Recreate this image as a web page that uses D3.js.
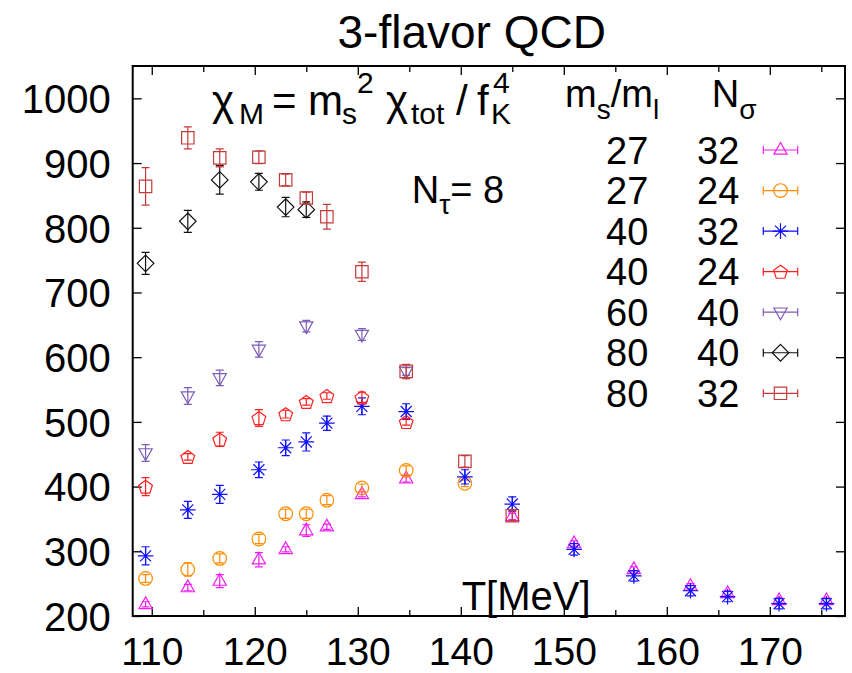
<!DOCTYPE html>
<html>
<head>
<meta charset="utf-8">
<script src="https://cdn.jsdelivr.net/npm/d3@7"></script>
<style>
  body { margin: 0; background: #fff; }
  svg { display: block; }
  text { font-family: "Liberation Sans", Arial, Helvetica, sans-serif; fill: #000; }
</style>
</head>
<body>
<svg id="chart" width="852" height="673"></svg>
<script>
// ---- data: temperature T [MeV], chi_M and its error for each (ms/ml, N_sigma) ensemble ----
const T_27_32   = [109.4, 113.5, 116.6, 120.4, 123.0, 125.0, 127.0, 130.4, 134.7, 145.0, 151.0, 156.8, 162.3, 165.9, 170.9, 175.5];
const chi_27_32 = [218, 244, 254, 287, 303, 332, 338, 388, 412, 354, 312, 272, 246, 235, 224, 224];
const err_27_32 = [4, 5, 10, 11, 4, 9, 4, 4, 5, 5, 4, 4, 4, 4, 4, 4];

const T_27_24   = [109.4, 113.5, 116.6, 120.4, 123.0, 125.0, 127.0, 130.4, 134.7, 140.4];
const chi_27_24 = [258, 272, 289, 319, 358, 358, 379, 398, 425, 405];
const err_27_24 = [6, 10, 7, 7, 7, 7, 7, 6, 7, 5];

const T_40_32   = [109.4, 113.5, 116.6, 120.4, 123.0, 125.0, 127.0, 130.4, 134.7, 140.4, 145.0, 151.0, 156.8, 162.3, 165.9, 170.9, 175.5];
const chi_40_32 = [293, 364, 388, 426, 460, 469, 498, 524, 516, 415, 373, 303, 262, 239, 230, 219, 219];
const err_40_32 = [14, 13, 14, 12, 12, 14, 11, 13, 12, 11, 11, 9, 8, 8, 8, 8, 8];

const T_40_24   = [109.4, 113.5, 116.6, 120.4, 123.0, 125.0, 127.0, 130.4, 134.7];
const chi_40_24 = [400, 446, 473, 506, 512, 531, 540, 538, 500];
const err_40_24 = [14, 5, 11, 13, 6, 5, 5, 8, 5];

const T_60_40   = [109.4, 113.5, 116.6, 120.4, 125.0, 130.4, 134.7];
const chi_60_40 = [452, 540, 568, 612, 648, 635, 578];
const err_60_40 = [13, 13, 12, 12, 9, 9, 6];

const T_80_40   = [109.4, 113.5, 116.6, 120.4, 123.0, 125.0];
const chi_80_40 = [745, 810, 874, 871, 832, 828];
const err_80_40 = [17, 17, 22, 13, 15, 12];

const T_80_32   = [109.4, 113.5, 116.6, 120.4, 123.0, 125.0, 127.0, 130.4, 134.7, 140.4, 145.0];
const chi_80_32 = [864, 939, 908, 909, 874, 846, 817, 732, 578, 439, 355];
const err_80_32 = [29, 17, 14, 10, 9, 9, 19, 15, 11, 9, 8];

// legend columns
const msRatio = ["27", "27", "40", "40", "60", "80", "80"];
const nSigma  = ["32", "24", "32", "24", "40", "40", "32"];

// axis ticks
const xTicks = [110, 115, 120, 125, 130, 135, 140, 145, 150, 155, 160, 165, 170, 175];
const yTicks = [200, 300, 400, 500, 600, 700, 800, 900, 1000];

// ---- series table ----
const series = [
  { T: T_27_32, v: chi_27_32, e: err_27_32, color: "#f21cf2", shape: "triUp" },
  { T: T_27_24, v: chi_27_24, e: err_27_24, color: "#ff8c00", shape: "circle" },
  { T: T_40_32, v: chi_40_32, e: err_40_32, color: "#1010ff", shape: "star" },
  { T: T_40_24, v: chi_40_24, e: err_40_24, color: "#ff2020", shape: "pentagon" },
  { T: T_60_40, v: chi_60_40, e: err_60_40, color: "#7b5cb8", shape: "triDown" },
  { T: T_80_40, v: chi_80_40, e: err_80_40, color: "#111111", shape: "diamond" },
  { T: T_80_32, v: chi_80_32, e: err_80_32, color: "#c43a3a", shape: "square" }
];
series.forEach((s, i) => { s.ms = msRatio[i]; s.ns = nSigma[i]; });

// ---- layout ----
const svg = d3.select("#chart");
const plot = { left: 132.7, right: 845, top: 66, bottom: 616 };

const x = d3.scaleLinear().domain([108.15, 177.3]).range([plot.left, plot.right]);
const y = d3.scaleLinear().domain([200, 1050]).range([plot.bottom, plot.top]);

// ---- marker shapes (open symbols) ----
function shapePath(shape) {
  const p = d3.path();
  if (shape === "triUp") {
    p.moveTo(0, -7.5); p.lineTo(6.6, 4.2); p.lineTo(-6.6, 4.2); p.closePath();
  } else if (shape === "triDown") {
    p.moveTo(0, 7.5); p.lineTo(6.6, -4.2); p.lineTo(-6.6, -4.2); p.closePath();
  } else if (shape === "circle") {
    p.moveTo(6.8, 0); p.arc(0, 0, 6.8, 0, 2 * Math.PI);
  } else if (shape === "star") {
    const r = 7.8, d = r * Math.SQRT1_2;
    p.moveTo(-r, 0); p.lineTo(r, 0);
    p.moveTo(0, -r); p.lineTo(0, r);
    p.moveTo(-d, -d); p.lineTo(d, d);
    p.moveTo(-d, d); p.lineTo(d, -d);
  } else if (shape === "pentagon") {
    const r = 7.2;
    for (let k = 0; k < 5; k++) {
      const a = -Math.PI / 2 + k * 2 * Math.PI / 5;
      const px = r * Math.cos(a), py = r * Math.sin(a) + 0.8;
      if (k === 0) p.moveTo(px, py); else p.lineTo(px, py);
    }
    p.closePath();
  } else if (shape === "diamond") {
    const r = 8.3;
    p.moveTo(0, -r); p.lineTo(r, 0); p.lineTo(0, r); p.lineTo(-r, 0); p.closePath();
  } else if (shape === "square") {
    const h = 6.2;
    p.rect(-h, -h, 2 * h, 2 * h);
  }
  return p.toString();
}

// ---- frame and axes ----
function isMajorX(t) { return t % 10 === 0; }

// bottom axis with labels
const xAxis = d3.axisBottom(x).tickValues(xTicks).tickSizeOuter(0)
  .tickFormat(t => isMajorX(t) ? d3.format("d")(t) : "");
const gx = svg.append("g").attr("transform", `translate(0,${plot.bottom})`).call(xAxis);
gx.select(".domain").remove();
gx.selectAll(".tick line").attr("y2", t => isMajorX(t) ? -9 : -6).attr("stroke", "#000").attr("stroke-width", 1.3);
gx.selectAll(".tick text").attr("y", 48.5).attr("dy", 0).attr("font-size", 39)
  .style("font-family", "'Liberation Sans', Arial, sans-serif").attr("fill", "#000");

// top mirror ticks
const gxTop = svg.append("g").attr("transform", `translate(0,${plot.top})`)
  .call(d3.axisTop(x).tickValues(xTicks).tickSizeOuter(0).tickFormat(""));
gxTop.select(".domain").remove();
gxTop.selectAll(".tick line").attr("y2", t => isMajorX(t) ? 9 : 6).attr("stroke", "#000").attr("stroke-width", 1.3);

// left axis with labels
const gy = svg.append("g").attr("transform", `translate(${plot.left},0)`)
  .call(d3.axisLeft(y).tickValues(yTicks).tickSizeOuter(0).tickFormat(d3.format("d")));
gy.select(".domain").remove();
gy.selectAll(".tick line").attr("x2", 9).attr("stroke", "#000").attr("stroke-width", 1.3);
gy.selectAll(".tick text").attr("x", -22).attr("dy", "0.36em").attr("font-size", 40)
  .style("font-family", "'Liberation Sans', Arial, sans-serif").attr("fill", "#000");

// right mirror ticks
const gyR = svg.append("g").attr("transform", `translate(${plot.right},0)`)
  .call(d3.axisRight(y).tickValues(yTicks).tickSizeOuter(0).tickFormat(""));
gyR.select(".domain").remove();
gyR.selectAll(".tick line").attr("x2", -9).attr("stroke", "#000").attr("stroke-width", 1.3);

// frame
svg.append("rect")
  .attr("x", plot.left).attr("y", plot.top)
  .attr("width", plot.right - plot.left).attr("height", plot.bottom - plot.top)
  .attr("fill", "none").attr("stroke", "#000").attr("stroke-width", 2);

// ---- text: title, formula, N_tau, axis label ----
svg.append("text").attr("x", 471.7).attr("y", 48.3).attr("text-anchor", "middle")
  .attr("font-size", 46).text("3-flavor QCD");

// chi_M = m_s^2 chi_tot / f_K^4, pieces placed along one baseline
const FB = 115, SUB = 9, SUP = -21.7, BIG = 42, SMALL = 30;
const formulaParts = [
  { t: "χ",   x: 212, size: BIG,   dy: 0 },
  { t: "M",   x: 239, size: SMALL, dy: SUB },
  { t: "=",   x: 272, size: BIG,   dy: 0 },
  { t: "m",   x: 308, size: BIG,   dy: 0 },
  { t: "s",   x: 342, size: SMALL, dy: SUB },
  { t: "2",   x: 357, size: SMALL, dy: SUP },
  { t: "χ",   x: 386, size: BIG,   dy: 0 },
  { t: "tot", x: 411, size: SMALL, dy: SUB },
  { t: "/",   x: 456, size: BIG,   dy: 0 },
  { t: "f",   x: 477, size: BIG,   dy: 0 },
  { t: "K",   x: 491, size: SMALL, dy: SUB },
  { t: "4",   x: 493, size: SMALL, dy: SUP }
];
svg.append("g").selectAll("text").data(formulaParts).join("text")
  .attr("x", d => d.x).attr("y", d => FB + d.dy).attr("font-size", d => d.size).text(d => d.t);

const ntau = svg.append("text").attr("x", 411.7).attr("y", 203.3).attr("font-size", 38);
ntau.append("tspan").text("N");
ntau.append("tspan").attr("font-size", 28).attr("dy", 11).text("τ");
ntau.append("tspan").attr("dy", -11).text("= 8");

svg.append("text").attr("x", 461.7).attr("y", 610).attr("font-size", 40).text("T[MeV]");

// ---- legend ----
const hdr = svg.append("text").attr("x", 565).attr("y", 107).attr("font-size", 38);
hdr.append("tspan").text("m");
hdr.append("tspan").attr("font-size", 28).attr("dy", 12).text("s");
hdr.append("tspan").attr("dy", -12).text("/m");
hdr.append("tspan").attr("font-size", 28).attr("dy", 12).text("l");

const hdr2 = svg.append("text").attr("x", 711.7).attr("y", 107).attr("font-size", 38);
hdr2.append("tspan").text("N");
hdr2.append("tspan").attr("font-size", 28).attr("dy", 12).text("σ");

const rowY = d3.scaleLinear().domain([0, 6]).range([150, 393.3]);
const leg = svg.append("g").selectAll("g").data(series).join("g")
  .attr("transform", (d, i) => `translate(0,${rowY(i)})`);
leg.append("text").attr("x", 648.3).attr("dy", "0.36em").attr("text-anchor", "end")
  .attr("font-size", 38).text(d => d.ms);
leg.append("text").attr("x", 739.3).attr("dy", "0.36em").attr("text-anchor", "end")
  .attr("font-size", 38).text(d => d.ns);
const sample = leg.append("g").attr("transform", "translate(780.5,0)")
  .attr("stroke", d => d.color).attr("fill", "none").attr("stroke-width", 1.2);
sample.append("path").attr("d", "M-17.2,0H17.2M-17.2,-4V4M17.2,-4V4");
sample.append("path").attr("d", d => shapePath(d.shape));

// ---- data points with vertical error bars ----
series.forEach(s => {
  const pts = s.T.map((t, i) => ({ t, v: s.v[i], e: s.e[i] }));
  const g = svg.append("g").attr("stroke", s.color).attr("fill", "none").attr("stroke-width", 1.2);
  const pg = g.selectAll("g").data(pts).join("g")
    .attr("transform", d => `translate(${x(d.t)},${y(d.v)})`);
  pg.append("path").attr("d", d => {
    const top = y(d.v + d.e) - y(d.v), bot = y(d.v - d.e) - y(d.v);
    return `M0,${top}V${bot}M-4,${top}H4M-4,${bot}H4`;
  });
  pg.append("path").attr("d", shapePath(s.shape));
});
</script>
</body>
</html>
